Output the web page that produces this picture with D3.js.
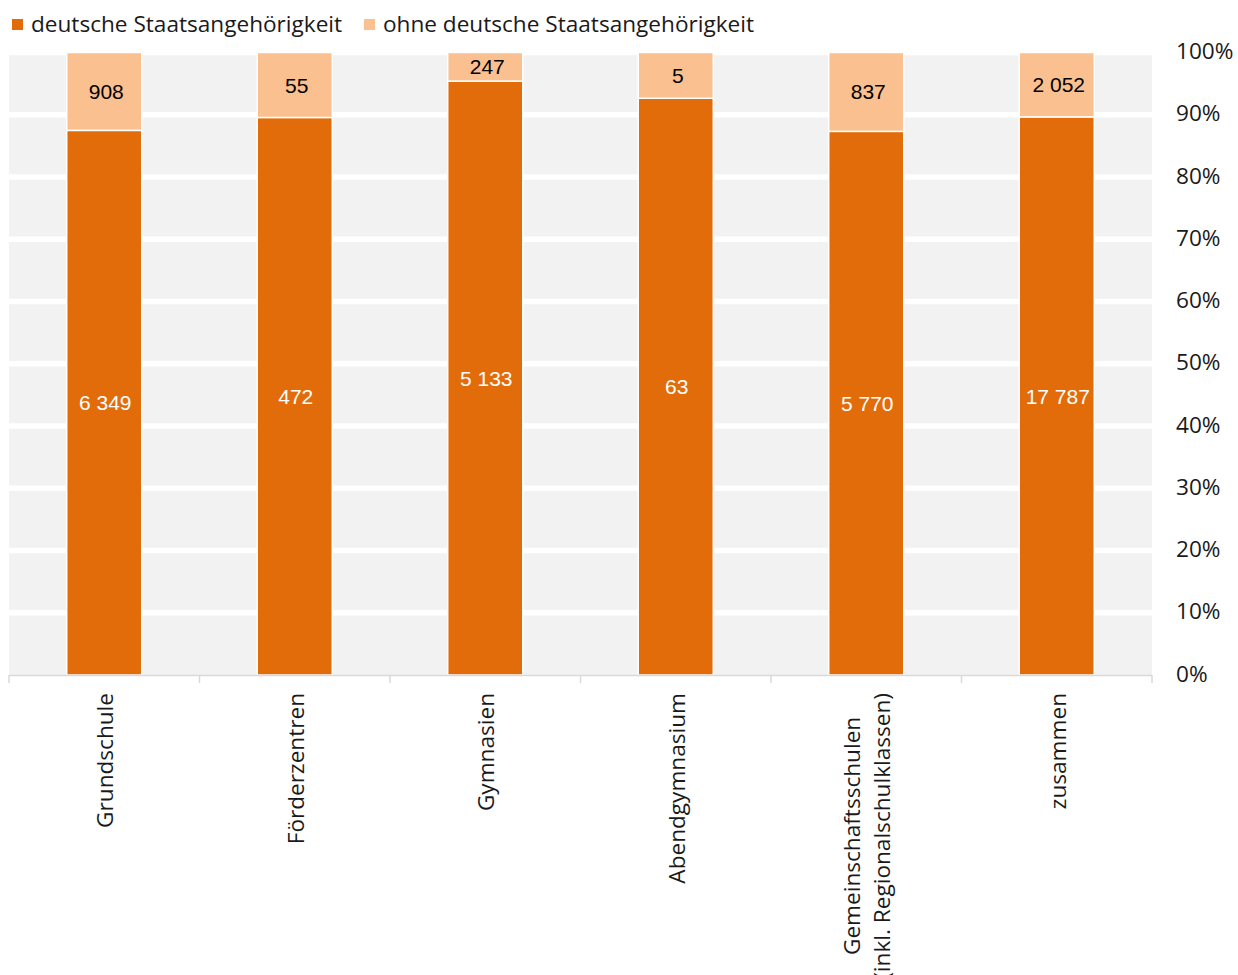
<!DOCTYPE html>
<html><head><meta charset="utf-8">
<script src="https://cdn.jsdelivr.net/npm/d3@7"></script>
<style>body{margin:0;background:#fff}svg{display:block}</style>
</head><body>
<script>
const categories = ["Grundschule","Förderzentren","Gymnasien","Abendgymnasium","Gemeinschaftsschulen\n(inkl. Regionalschulklassen)","zusammen"];
const seriesNames = ["deutsche Staatsangehörigkeit","ohne deutsche Staatsangehörigkeit"];
const deutsch = [6349, 472, 5133, 63, 5770, 17787];
const ohne = [908, 55, 247, 5, 837, 2052];
const yTicks = [0,0.1,0.2,0.3,0.4,0.5,0.6,0.7,0.8,0.9,1.0];
const colors = ["#e36c0a","#fac090"];

const W=1238,H=975;
const svg=d3.select("body").append("svg").attr("width",W).attr("height",H);
const fmt=d3.formatLocale({decimal:",",thousands:" ",grouping:[3],currency:["","€"]}).format(",d");
const pct=d3.format(".0%");
const FS=22.6;

const x=d3.scaleBand().domain(categories).range([9,1152]).paddingInner(0.606).paddingOuter(0.303);
const y=d3.scaleLinear().domain([0,1]).range([675,52.5]);

svg.append("rect").attr("x",9).attr("y",y(1)).attr("width",1152-9).attr("height",y(0)-y(1)).attr("fill","#f2f2f2");
svg.selectAll("line.grid").data(yTicks.filter(d=>d>0)).enter().append("line")
  .attr("x1",9).attr("x2",1152).attr("y1",d=>y(d)).attr("y2",d=>y(d))
  .attr("stroke","#fff").attr("stroke-width",5.5);

const data=categories.map((c,i)=>{const t=deutsch[i]+ohne[i];return {c,d:deutsch[i],o:ohne[i],pd:deutsch[i]/t};});

const g=svg.append("g");
g.selectAll("rect.d").data(data).enter().append("rect")
  .attr("x",d=>x(d.c)).attr("width",x.bandwidth())
  .attr("y",d=>y(d.pd)).attr("height",d=>y(0)-y(d.pd))
  .attr("fill",colors[0]).attr("stroke","#fff").attr("stroke-width",1.5);
g.selectAll("rect.o").data(data).enter().append("rect")
  .attr("x",d=>x(d.c)).attr("width",x.bandwidth())
  .attr("y",y(1)).attr("height",d=>y(d.pd)-y(1))
  .attr("fill",colors[1]).attr("stroke","#fff").attr("stroke-width",1.5);

g.selectAll("text.d").data(data).enter().append("text")
  .attr("x",d=>x(d.c)+x.bandwidth()/2+1).attr("y",d=>(y(d.pd)+y(0))/2).attr("dy","0.36em")
  .attr("text-anchor","middle").attr("font-family","Liberation Sans, Arial, sans-serif").attr("font-size",21)
  .attr("fill","#fff").text(d=>fmt(d.d));
g.selectAll("text.o").data(data).enter().append("text")
  .attr("x",d=>x(d.c)+x.bandwidth()/2+2).attr("y",d=>(y(d.pd)+y(1))/2).attr("dy","0.36em")
  .attr("text-anchor","middle").attr("font-family","Liberation Sans, Arial, sans-serif").attr("font-size",21)
  .attr("fill","#000").text(d=>fmt(d.o));

svg.selectAll("text.yt").data(yTicks).enter().append("text")
  .attr("x",1176).attr("y",d=>y(d)-1.5).attr("dy","0.36em")
  .attr("font-family","Open Sans, sans-serif").attr("font-size",FS).attr("fill","#1a1a1a")
  .text(d=>pct(d));

svg.append("line").attr("x1",9).attr("x2",1152).attr("y1",675.5).attr("y2",675.5).attr("stroke","#d9d9d9").attr("stroke-width",1.5);
const bounds=d3.range(categories.length+1).map(i=>9+i*x.step());
svg.selectAll("line.tk").data(bounds).enter().append("line")
  .attr("x1",d=>d).attr("x2",d=>d).attr("y1",675).attr("y2",683).attr("stroke","#d9d9d9").attr("stroke-width",1.5);

categories.forEach(c=>{
  const lines=c.split("\n");
  const cx=x(c)+x.bandwidth()/2+1;
  const t=svg.append("text").attr("font-family","Open Sans, sans-serif").attr("font-size",FS).attr("fill","#1a1a1a").attr("text-anchor","middle");
  const lh=30;
  const off=-(lines.length-1)*lh/2;
  const spans=lines.map((l,i)=>t.append("tspan").attr("x",0).attr("y",off+i*lh).attr("dy","0.36em").text(l));
  const maxLen=d3.max(spans,s=>s.node().getComputedTextLength());
  t.attr("transform",`translate(${cx},${693+maxLen/2}) rotate(-90)`);
});

const leg=[{x:12,tx:31},{x:364,tx:383}];
seriesNames.forEach((n,i)=>{
  svg.append("rect").attr("x",leg[i].x).attr("y",19).attr("width",11).attr("height",11).attr("fill",colors[i]);
  svg.append("text").attr("x",leg[i].tx).attr("y",23.5).attr("dy","0.36em").attr("font-family","Open Sans, sans-serif").attr("font-size",FS).attr("fill","#1a1a1a").text(n);
});
</script>
</body></html>
